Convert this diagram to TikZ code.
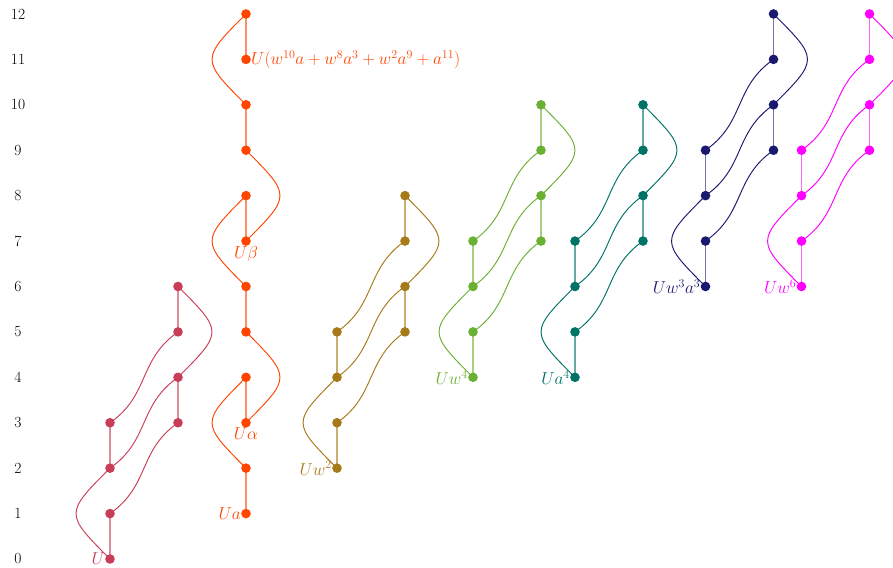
\documentclass[tikz,border=0pt]{standalone}
\usetikzlibrary{calc}
\definecolor{cRed}{RGB}{200,62,88}
\definecolor{cOrange}{RGB}{255,69,0}
\definecolor{cOlive}{RGB}{166,122,24}
\definecolor{cGreen}{RGB}{106,176,50}
\definecolor{cTeal}{RGB}{0,114,102}
\definecolor{cNavy}{RGB}{25,25,112}
\definecolor{cMagenta}{RGB}{255,0,255}
\pgfdeclarelayer{bg}
\pgfsetlayers{bg,main}
\tikzset{
  dot/.style={circle, fill=#1, inner sep=0pt, minimum size=9.6pt},
  sqone/.style={draw=#1, line width=1.7pt, draw opacity=0.6},
  sqtwo/.style={draw=#1, line width=0.95pt},
  lab/.style={text=#1, font=\fontsize{17}{20}\selectfont, inner sep=0pt},
  axisnum/.style={font=\fontsize{15.5}{18}\selectfont, inner sep=0pt},
}
% #1 name, #2 colour, #3 x of left column, #4 base level
\newcommand\stdmodule[4]{%
  \foreach \i in {0,1,2,3}{%
    \node[dot=#2] (#1-L\i) at (#3,{8+45.42*(#4+\i)}) {};}
  \foreach \i in {3,4,5,6}{%
    \node[dot=#2] (#1-R\i) at ({#3+68},{8+45.42*(#4+\i)}) {};}
  \begin{pgfonlayer}{bg}
    \draw[sqone=#2] (#1-L0.center) -- (#1-L1.center)
                    (#1-L2.center) -- (#1-L3.center)
                    (#1-R3.center) -- (#1-R4.center)
                    (#1-R5.center) -- (#1-R6.center);
    \draw[sqtwo=#2] (#1-L0.center) .. controls +(135:64) and +(225:64) .. (#1-L2.center);
    \draw[sqtwo=#2] (#1-R4.center) .. controls +(45:64) and +(-45:64) .. (#1-R6.center);
    \draw[sqtwo=#2] (#1-L1.center) .. controls +(35:49) and +(215:49) .. (#1-R3.center);
    \draw[sqtwo=#2] (#1-L2.center) .. controls +(35:49) and +(215:49) .. (#1-R4.center);
    \draw[sqtwo=#2] (#1-L3.center) .. controls +(35:49) and +(215:49) .. (#1-R5.center);
  \end{pgfonlayer}%
}
\begin{document}
\begin{tikzpicture}[x=1pt,y=1pt]
\useasboundingbox (0,0) rectangle (893,567);
\begin{pgfonlayer}{bg}
\clip (0,0) rectangle (893,567);
\end{pgfonlayer}
% axis numbers
\foreach \k in {0,...,12}{%
  \node[axisnum] (ax-\k) at (18,{8+45.42*\k}) {\k};}

% standard modules
\stdmodule{red}{cRed}{110}{0}
\stdmodule{olive}{cOlive}{337}{2}
\stdmodule{green}{cGreen}{473}{4}
\stdmodule{teal}{cTeal}{575}{4}
\stdmodule{navy}{cNavy}{705.5}{6}
\stdmodule{mag}{cMagenta}{801.5}{6}

% orange column
\foreach \i in {1,...,12}{%
  \node[dot=cOrange] (or-\i) at (246,{8+45.42*\i}) {};}
\begin{pgfonlayer}{bg}
  \draw[sqone=cOrange] (or-1.center) -- (or-2.center)
                       (or-3.center) -- (or-4.center)
                       (or-5.center) -- (or-6.center)
                       (or-7.center) -- (or-8.center)
                       (or-9.center) -- (or-10.center)
                       (or-11.center) -- (or-12.center);
  \draw[sqtwo=cOrange] (or-2.center) .. controls +(135:64) and +(225:64) .. (or-4.center);
  \draw[sqtwo=cOrange] (or-6.center) .. controls +(135:64) and +(225:64) .. (or-8.center);
  \draw[sqtwo=cOrange] (or-10.center) .. controls +(135:64) and +(225:64) .. (or-12.center);
  \draw[sqtwo=cOrange] (or-3.center) .. controls +(45:64) and +(-45:64) .. (or-5.center);
  \draw[sqtwo=cOrange] (or-7.center) .. controls +(45:64) and +(-45:64) .. (or-9.center);
\end{pgfonlayer}

% labels
\node[lab=cRed, anchor=east] (lab-red) at ([xshift=-5pt]red-L0.center) {$U$};
\node[lab=cOrange, anchor=east] (lab-or1) at ([xshift=-5pt]or-1.center) {$Ua$};
\node[lab=cOrange, anchor=north] (lab-or3) at ([yshift=-5pt]or-3.center) {$U\alpha$};
\node[lab=cOrange, anchor=north] (lab-or7) at ([yshift=-5pt]or-7.center) {$U\beta$};
\node[lab=cOrange, anchor=base west] (lab-or11) at ([xshift=5pt,yshift=-5pt]or-11.center) {$U(w^{10}a+w^8a^3+w^2a^9+a^{11})$};
\node[lab=cOlive, anchor=east] (lab-olive) at ([xshift=-5pt]olive-L0.center) {$Uw^2$};
\node[lab=cGreen, anchor=east] (lab-green) at ([xshift=-5pt]green-L0.center) {$Uw^4$};
\node[lab=cTeal, anchor=east] (lab-teal) at ([xshift=-5pt]teal-L0.center) {$Ua^4$};
\node[lab=cNavy, anchor=east] (lab-navy) at ([xshift=-5pt]navy-L0.center) {$Uw^3a^3$};
\node[lab=cMagenta, anchor=east] (lab-mag) at ([xshift=-5pt]mag-L0.center) {$Uw^6$};
\end{tikzpicture}
\end{document}
